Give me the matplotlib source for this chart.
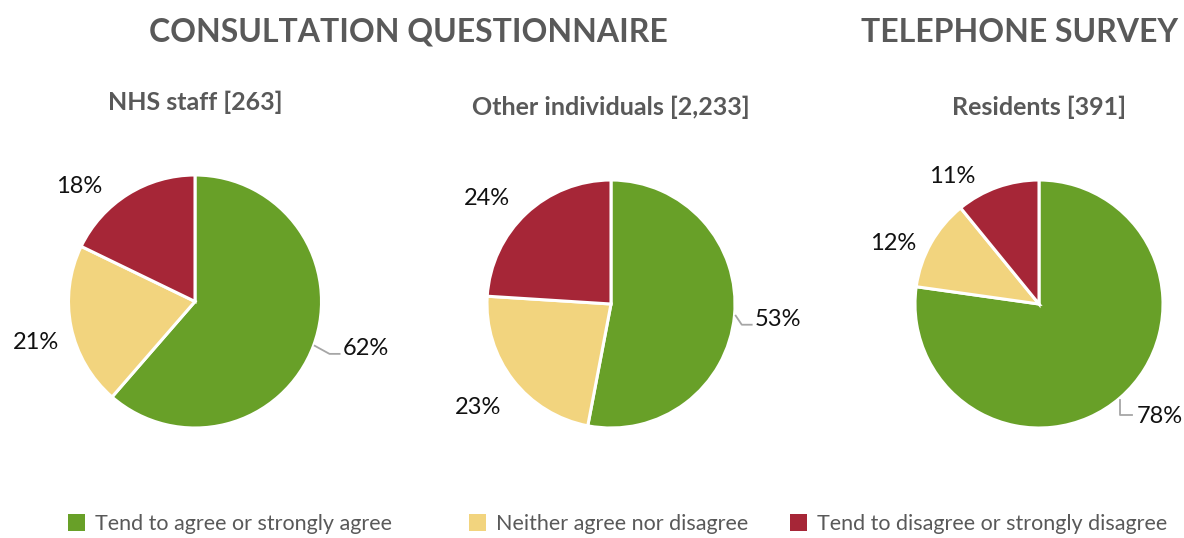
import numpy as np
import matplotlib.pyplot as plt
from matplotlib.patches import Patch

plt.rcParams['font.family'] = ['Lato', 'DejaVu Sans']

# data
categories = ["Tend to agree or strongly agree",
              "Neither agree nor disagree",
              "Tend to disagree or strongly disagree"]
colors = ["#68A028", "#F2D47E", "#A62637"]

groups = ["NHS staff [263]", "Other individuals [2,233]", "Residents [391]"]
nhs_staff = [62, 21, 18]
other_individuals = [53, 23, 24]
residents = [78, 12, 11]
section_titles = ["CONSULTATION QUESTIONNAIRE", "TELEPHONE SURVEY"]

W, H = 1184, 538
fig = plt.figure(figsize=(W / 100, H / 100), dpi=100)

# layout in pixels: center x, center y, radius, label distances, label angle shifts, subtitle y
pies = [
    (195, 301.5, 126.5, nhs_staff, [1.40, 1.30, 1.29], [5, 3, 13], 102),
    (611, 304, 124, other_individuals, [1.35, 1.36, 1.31], [0, 0, 6.5], 107),
    (1039, 304, 124, residents, [1.33, 1.27, 1.24], [6.0, 7, 14.7], 107),
]

LEAD = "#a6a6a6"

for k, ((cx, cy, r, vals, dists, shifts, ty), title) in enumerate(zip(pies, groups)):
    ax = fig.add_axes([(cx - r) / W, (H - cy - r) / H, 2 * r / W, 2 * r / H])
    wedges, _ = ax.pie(vals, colors=colors, startangle=90, counterclock=False,
                       wedgeprops=dict(edgecolor="white", linewidth=2.2))
    ax.set_xlim(-1, 1)
    ax.set_ylim(-1, 1)
    ax.set_aspect("equal")
    ax.axis("off")
    for i, (w, v, d, s) in enumerate(zip(wedges, vals, dists, shifts)):
        mid = np.deg2rad((w.theta1 + w.theta2) / 2)
        ang = mid + np.deg2rad(s)
        x, y = d * np.cos(ang), d * np.sin(ang)
        ax.text(x, y, f"{v}%", ha="center", va="center", fontsize=17,
                color="#111111", clip_on=False)
        if i == 0:
            # leader line from the rim of the big wedge to its label
            x0, y0 = np.cos(mid), np.sin(mid)
            left = x - 21 / r
            if k == 2:
                xs = [x0, x0, left - 0.05]
                ys = [y0 - 0.02, y + 0.015, y + 0.015]
            else:
                xs = [x0 + 0.01, left - 0.12, left - 0.04]
                ys = [y0, y - 0.04, y - 0.04]
            ax.plot(xs, ys, color=LEAD, lw=1.3, clip_on=False)
    fig.text(cx / W, 1 - ty / H, title, ha="center", va="center",
             fontsize=18, fontweight="bold", color="#595959")

fig.text(408 / W, 1 - 32 / H, section_titles[0], ha="center", va="center",
         fontsize=23, fontweight="bold", color="#595959")
fig.text(1020 / W, 1 - 32 / H, section_titles[1], ha="center", va="center",
         fontsize=23, fontweight="bold", color="#595959")

# legend entries, each placed at its own left edge like the original
legend_x = [68, 469, 790]
for lx, cat, col in zip(legend_x, categories, colors):
    fig.legend([Patch(facecolor=col, edgecolor="none")], [cat],
               loc="center left", bbox_to_anchor=(lx / W, 1 - 524 / H),
               frameon=False, fontsize=15.5, handlelength=0.8,
               handleheight=0.8, handletextpad=0.45, borderpad=0,
               borderaxespad=0, labelcolor="#595959")

fig.savefig("out.png", dpi=100)
